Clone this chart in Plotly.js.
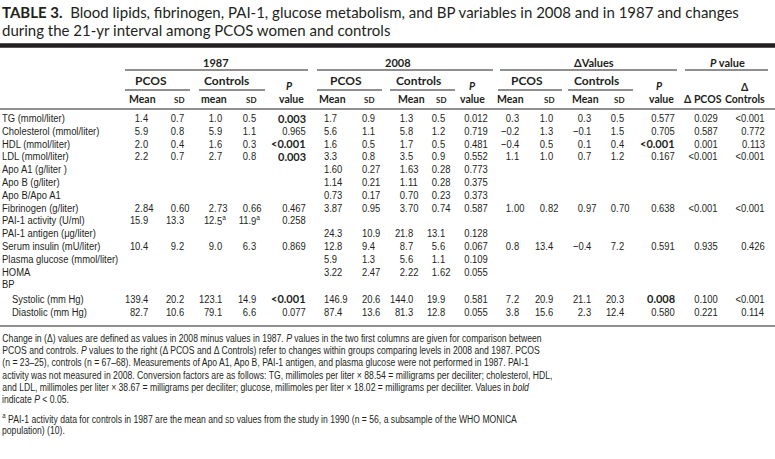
<!DOCTYPE html>
<html><head><meta charset="utf-8">
<script src="https://cdn.plot.ly/plotly-3.0.1.min.js"></script>
<style>html,body{margin:0;padding:0;background:#fff;}</style>
</head><body>
<div id="chart" style="width:775px;height:459px"></div>
<script>
// ---------------- DATA ----------------
const rowLabels = ["TG (mmol/liter)", "Cholesterol (mmol/liter)", "HDL (mmol/liter)", "LDL (mmol/liter)",
  "Apo A1 (g/liter )", "Apo B (g/liter)", "Apo B/Apo A1", "Fibrinogen (g/liter)", "PAI-1 activity (U/ml)",
  "PAI-1 antigen (μg/liter)", "Serum insulin (mU/liter)", "Plasma glucose (mmol/liter)", "HOMA", "BP",
  "Systolic (mm Hg)", "Diastolic (mm Hg)"];
const indentedRows = [14, 15];

const pcos1987Mean = ["1.4","5.9","2.0","2.2","","","","2.84","15.9","","10.4","","","","139.4","82.7"];
const pcos1987SD   = ["0.7","0.8","0.4","0.7","","","","0.60","13.3","","9.2","","","","20.2","10.6"];
const ctrl1987Mean = ["1.0","5.9","1.6","2.7","","","","2.73","12.5<sup>a</sup>","","9.0","","","","123.1","79.1"];
const ctrl1987SD   = ["0.5","1.1","0.3","0.8","","","","0.66","11.9<sup>a</sup>","","6.3","","","","14.9","6.6"];
const p1987        = ["0.003","0.965","<0.001","0.003","","","","0.467","0.258","","0.869","","","","<0.001","0.077"];
const pcos2008Mean = ["1.7","5.6","1.6","3.3","1.60","1.14","0.73","3.87","","24.3","12.8","5.9","3.22","","146.9","87.4"];
const pcos2008SD   = ["0.9","1.1","0.5","0.8","0.27","0.21","0.17","0.95","","10.9","9.4","1.3","2.47","","20.6","13.6"];
const ctrl2008Mean = ["1.3","5.8","1.7","3.5","1.63","1.11","0.70","3.70","","21.8","8.7","5.6","2.22","","144.0","81.3"];
const ctrl2008SD   = ["0.5","1.2","0.5","0.9","0.28","0.28","0.23","0.74","","13.1","5.6","1.1","1.62","","19.9","12.8"];
const p2008        = ["0.012","0.719","0.481","0.552","0.773","0.375","0.373","0.587","","0.128","0.067","0.109","0.055","","0.581","0.055"];
const deltaPcosMean = ["0.3","−0.2","−0.4","1.1","","","","1.00","","","0.8","","","","7.2","3.8"];
const deltaPcosSD   = ["1.0","1.3","0.5","1.0","","","","0.82","","","13.4","","","","20.9","15.6"];
const deltaCtrlMean = ["0.3","−0.1","0.1","0.7","","","","0.97","","","−0.4","","","","21.1","2.3"];
const deltaCtrlSD   = ["0.5","1.5","0.4","1.2","","","","0.70","","","7.2","","","","20.3","12.4"];
const pDelta        = ["0.577","0.705","<0.001","0.167","","","","0.638","","","0.591","","","","0.008","0.580"];
const pDeltaPcos    = ["0.029","0.587","0.001","<0.001","","","","<0.001","","","0.935","","","","0.100","0.221"];
const pDeltaCtrl    = ["<0.001","0.772","0.113","<0.001","","","","<0.001","","","0.426","","","","<0.001","0.114"];
// rows printed in bold (P < 0.05)
const boldP1987 = [0, 2, 3, 14];
const boldPDelta = [2, 14];

const titleLine1 = "Blood lipids, fibrinogen, PAI-1, glucose metabolism, and BP variables in 2008 and in 1987 and changes";
const titleLine2 = "during the 21-yr interval among PCOS women and controls";
const footLines = [
  "Change in (Δ) values are defined as values in 2008 minus values in 1987. <i>P</i> values in the two first columns are given for comparison between",
  "PCOS and controls. <i>P</i> values to the right (Δ PCOS and Δ Controls) refer to changes within groups comparing levels in 2008 and 1987. PCOS",
  "(n = 23–25), controls (n = 67–68). Measurements of Apo A1, Apo B, PAI-1 antigen, and plasma glucose were not performed in 1987. PAI-1",
  "activity was not measured in 2008. Conversion factors are as follows: TG, millimoles per liter × 88.54 = milligrams per deciliter; cholesterol, HDL,",
  "and LDL, millimoles per liter × 38.67 = milligrams per deciliter; glucose, millimoles per liter × 18.02 = milligrams per deciliter. Values in <i>bold</i>",
  "indicate <i>P</i> &lt; 0.05."
];
const noteLines = [
  "<sup>a</sup> PAI-1 activity data for controls in 1987 are the mean and <span style=\"font-size:8.5px\">SD</span> values from the study in 1990 (n = 56, a subsample of the WHO MONICA",
  "population) (10)."
];

// ---------------- LAYOUT ----------------
const INK = "#231f20";
const BODY = "'Liberation Sans', Arial, sans-serif";
const HEAD = "Lato, 'Open Sans', sans-serif";
const bodyFont = {family: BODY, size: 11.5, color: INK};
const footFont = {family: BODY, size: 11, color: INK};
const topFont = {family: HEAD, size: 11, color: INK};
const groupFont = {family: HEAD, size: 12, color: INK};
const subFont = {family: HEAD, size: 10.5, color: INK};
const sdFont = {family: HEAD, size: 8, color: INK};
const boldCellFont = {family: HEAD, size: 11, color: INK};
const CONDENSE = 0.82;      // horizontal squeeze imitating a condensed typeface
const FOOT_CONDENSE = 0.785;

const rowY = i => 118 + i * 12.8 + (i >= 14 ? 1.5 : 0);

const columns = [
  {data: pcos1987Mean, x: 143, align: "dec"},
  {data: pcos1987SD, x: 179, align: "dec"},
  {data: ctrl1987Mean, x: 217, align: "dec"},
  {data: ctrl1987SD, x: 251, align: "dec"},
  {data: p1987, x: 306, align: "right", bold: boldP1987},
  {data: pcos2008Mean, x: 324, align: "left"},
  {data: pcos2008SD, x: 362, align: "left"},
  {data: ctrl2008Mean, x: 408, align: "dec"},
  {data: ctrl2008SD, x: 440, align: "dec"},
  {data: p2008, x: 488, align: "right"},
  {data: deltaPcosMean, x: 514, align: "dec"},
  {data: deltaPcosSD, x: 548, align: "dec"},
  {data: deltaCtrlMean, x: 586, align: "dec"},
  {data: deltaCtrlSD, x: 619, align: "dec"},
  {data: pDelta, x: 675, align: "right", bold: boldPDelta},
  {data: pDeltaPcos, x: 718, align: "right"},
  {data: pDeltaCtrl, x: 765, align: "right"}
];

const ann = [];
const squeeze = [];
function txt(text, x, y, font, xanchor, sq) {
  ann.push({text: text, x: x, y: y, xref: "x", yref: "y", showarrow: false,
    xanchor: xanchor || "center", yanchor: "middle", font: font, borderpad: 0, borderwidth: 0});
  squeeze.push(sq || 1);
}
const esc = s => s.replace(/</g, "&lt;").replace(/&lt;sup>/g, "<sup>").replace(/&lt;\/sup>/g, "</sup>");

// title
txt("<b>TABLE 3.</b>  " + titleLine1, 2, 12, {family: HEAD, size: 15, color: INK}, "left");
txt(titleLine2, 2, 30, {family: HEAD, size: 15, color: INK}, "left");

// header
[["1987", 216], ["2008", 398], ["ΔValues", 594], ["<i>P</i> value", 727]].forEach(h =>
  txt("<b>" + h[0] + "</b>", h[1], 62, topFont));
[["PCOS", 151], ["Controls", 226], ["PCOS", 346], ["Controls", 418], ["PCOS", 527], ["Controls", 596]].forEach(h =>
  txt("<b>" + h[0] + "</b>", h[1], 80, groupFont));
[289, 472, 659].forEach(x => txt("<b><i>P</i></b>", x, 86, subFont));
txt("<b>Δ</b>", 745, 87, subFont);
[["Mean", 142], ["mean", 214], ["value", 291], ["Mean", 332], ["Mean", 411], ["value", 472],
 ["Mean", 510], ["Mean", 585], ["value", 661], ["Δ PCOS", 703], ["Controls", 745]].forEach(h =>
  txt("<b>" + h[0] + "</b>", h[1], 99, subFont));
[179, 251, 369, 441, 549, 619].forEach(x => txt("<b>SD</b>", x, 100, sdFont));

// row labels
rowLabels.forEach((lab, i) => txt(esc(lab), indentedRows.includes(i) ? 12 : 2, rowY(i), bodyFont, "left", CONDENSE));

// cells
columns.forEach(col => {
  col.data.forEach((v, i) => {
    if (!v) return;
    const isBold = col.bold && col.bold.includes(i);
    const f = isBold ? boldCellFont : bodyFont;
    const sq = isBold ? 1 : CONDENSE;
    const wrap = s => isBold ? "<b>" + s + "</b>" : s;
    const y = rowY(i);
    if (col.align === "dec") {
      const k = v.indexOf(".");
      txt(wrap(esc(v.slice(0, k + 1))), col.x, y, f, "right", sq);
      txt(wrap(esc(v.slice(k + 1))), col.x, y, f, "left", sq);
    } else {
      txt(wrap(esc(v)), col.x, y, f, col.align, sq);
    }
  });
});

// footnotes
footLines.forEach((l, i) => txt(l, 2, 338 + i * 12.2, footFont, "left", FOOT_CONDENSE));
noteLines.forEach((l, i) => txt(l, 2, 418 + i * 12.2, footFont, "left", FOOT_CONDENSE));

// rules
const shapes = [];
function rule(x0, x1, y, w) {
  shapes.push({type: "line", xref: "x", yref: "y", x0: x0, x1: x1, y0: y, y1: y, line: {color: INK, width: w}});
}
rule(0, 775, 45.5, 4.5);
[[125, 308], [317, 493], [500, 677], [685, 768]].forEach(s => rule(s[0], s[1], 70, 1));
[[125, 190], [199, 265], [317, 382], [390, 455], [498, 562], [568, 633]].forEach(s => rule(s[0], s[1], 90, 1));
rule(0, 775, 109, 1);
rule(0, 775, 326, 1.2);

Plotly.newPlot("chart", [], {
  width: 775, height: 459,
  margin: {l: 0, r: 0, t: 0, b: 0},
  paper_bgcolor: "#fff", plot_bgcolor: "#fff",
  xaxis: {range: [0, 775], visible: false, fixedrange: true},
  yaxis: {range: [459, 0], visible: false, fixedrange: true},
  showlegend: false,
  annotations: ann,
  shapes: shapes
}, {staticPlot: true, displayModeBar: false}).then(gd => {
  // squeeze body text horizontally about its anchor point (condensed look)
  gd.querySelectorAll("g.annotation").forEach(g => {
    const i = +g.getAttribute("data-index");
    const f = squeeze[i];
    if (!f || f === 1) return;
    const t = g.querySelector("text.annotation-text");
    if (!t) return;
    const bb = t.getBBox();
    const a = ann[i].xanchor;
    const ox = a === "left" ? bb.x : (a === "right" ? bb.x + bb.width : bb.x + bb.width / 2);
    t.setAttribute("transform", "translate(" + ox + ",0) scale(" + f + ",1) translate(" + (-ox) + ",0)");
  });
});
</script>
</body></html>
